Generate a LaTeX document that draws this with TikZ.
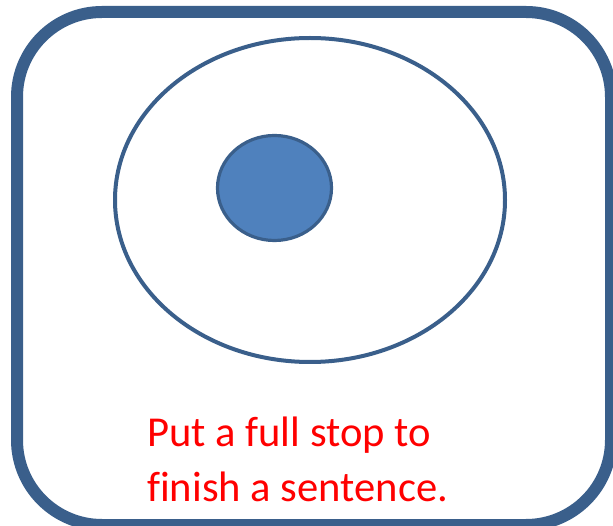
\documentclass[tikz,border=0pt]{standalone}
\usepackage{fontspec}
\setmainfont{Carlito}[Ligatures=NoCommon]
\definecolor{frameblue}{HTML}{3A5F8B}
\definecolor{fillblue}{HTML}{4F81BD}
\definecolor{textred}{HTML}{FF0000}
\begin{document}
\begin{tikzpicture}[x=1pt,y=-1pt,
  framestyle/.style={draw=frameblue,line width=12pt,rounded corners=85pt},
  ringstyle/.style={draw=frameblue,line width=4pt},
  dotstyle/.style={draw=frameblue,line width=3.2pt,fill=fillblue},
  labelstyle/.style={text=textred,font=\fontsize{42.6}{55}\selectfont,inner sep=0pt,anchor=base west}]
\useasboundingbox (0,0) rectangle (613,526);
\draw[framestyle] (17,12) rectangle (611,525);
\draw[ringstyle] (310,200) ellipse [x radius=195, y radius=162];
\draw[dotstyle] (274.5,188) ellipse [x radius=57, y radius=52.5];
\node[labelstyle] (line1) at (147,446.5) {Put a full stop to};
\node[labelstyle] (line2) at (147,501.5) {finish a sentence.};
\end{tikzpicture}
\end{document}
